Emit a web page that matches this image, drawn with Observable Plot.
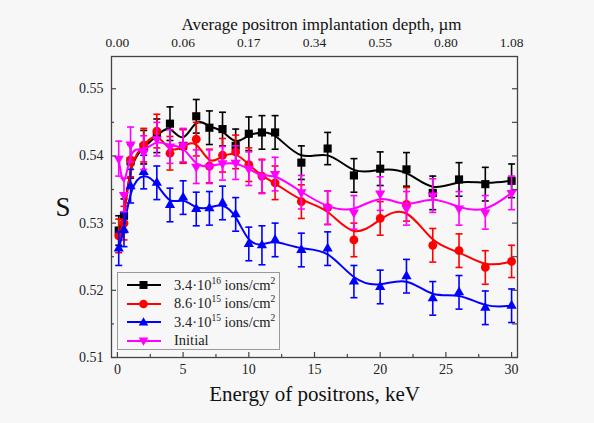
<!DOCTYPE html>
<html><head><meta charset="utf-8">
<script src="https://cdn.jsdelivr.net/npm/d3@7"></script>
<script src="https://cdn.jsdelivr.net/npm/@observablehq/plot@0.6"></script>
<style>
html,body{margin:0;padding:0;background:#f7f7f7;}
#wrap{position:relative;width:594px;height:423px;font-family:'Liberation Serif','Times New Roman',serif;color:#222;}
#legend{position:absolute;left:117px;top:272px;width:163px;height:78px;box-sizing:border-box;border:1px solid #9a9a9a;background:#f7f7f7;padding-top:3px;}
#legend .row{height:18.5px;display:flex;align-items:center;font-size:14.5px;white-space:nowrap;font-family:'Liberation Serif','Times New Roman',serif;}
#legend svg{display:block;margin-left:9px;margin-right:13px;}
#legend sup{font-size:9.5px;vertical-align:6px;line-height:0;}
</style></head><body><div id="wrap"></div>
<script>
// ---- data ----
const energy = [0.1, 0.5, 1, 2, 3, 4, 5, 6, 7, 8, 9, 10, 11, 12, 14, 16, 18, 20, 22, 24, 26, 28, 30];
const sDose34e16 = [0.5289, 0.5311, 0.5392, 0.5413, 0.5430, 0.5448, 0.5415, 0.5459, 0.5442, 0.5440, 0.5415, 0.5433, 0.5435, 0.5435, 0.5390, 0.5411, 0.5371, 0.5381, 0.5380, 0.5345, 0.5365, 0.5358, 0.5363];
const eDose34e16 = [0.0022, 0.0025, 0.0025, 0.0025, 0.0025, 0.0025, 0.0025, 0.0025, 0.0025, 0.0025, 0.0025, 0.0025, 0.0025, 0.0025, 0.0025, 0.0024, 0.0025, 0.0025, 0.0025, 0.0025, 0.0025, 0.0025, 0.0025];
const sDose86e15 = [0.5281, 0.5300, 0.5394, 0.5416, 0.5437, 0.5404, 0.5414, 0.5425, 0.5385, 0.5401, 0.5406, 0.5387, 0.5370, 0.5360, 0.5332, 0.5323, 0.5275, 0.5307, 0.5328, 0.5267, 0.5259, 0.5234, 0.5243];
const eDose86e15 = [0.0025, 0.0025, 0.0025, 0.0025, 0.0025, 0.0025, 0.0025, 0.0025, 0.0025, 0.0025, 0.0025, 0.0025, 0.0025, 0.0025, 0.0025, 0.0025, 0.0025, 0.0025, 0.0025, 0.0025, 0.0025, 0.0025, 0.0024];
const sDose34e15 = [0.5262, 0.5290, 0.5355, 0.5376, 0.5360, 0.5327, 0.5338, 0.5321, 0.5322, 0.5330, 0.5313, 0.5269, 0.5267, 0.5275, 0.5260, 0.5262, 0.5213, 0.5205, 0.5221, 0.5188, 0.5197, 0.5174, 0.5177];
const eDose34e15 = [0.0025, 0.0025, 0.0025, 0.0025, 0.0025, 0.0025, 0.0025, 0.0025, 0.0025, 0.0025, 0.0025, 0.0025, 0.0029, 0.0025, 0.0025, 0.0025, 0.0024, 0.0025, 0.0025, 0.0025, 0.0025, 0.0025, 0.0025];
const sInitial = [0.5396, 0.5342, 0.5417, 0.5405, 0.5425, 0.5414, 0.5416, 0.5384, 0.5384, 0.5389, 0.5390, 0.5381, 0.5369, 0.5373, 0.5346, 0.5323, 0.5316, 0.5344, 0.5322, 0.5341, 0.5322, 0.5316, 0.5345];
const eInitial = [0.0026, 0.0025, 0.0026, 0.0025, 0.0025, 0.0025, 0.0025, 0.0025, 0.0025, 0.0025, 0.0025, 0.0025, 0.0025, 0.0025, 0.0025, 0.0025, 0.0025, 0.0025, 0.0025, 0.0025, 0.0025, 0.0025, 0.0025];
const seriesNames = ["3.4·10<sup>16</sup> ions/cm<sup>2</sup>", "8.6·10<sup>15</sup> ions/cm<sup>2</sup>", "3.4·10<sup>15</sup> ions/cm<sup>2</sup>", "Initial"];
const xTicks = [0, 5, 10, 15, 20, 25, 30];
const xMinor = [2.5, 7.5, 12.5, 17.5, 22.5, 27.5];
const yTicks = [0.51, 0.52, 0.53, 0.54, 0.55];
const yMinor = [0.515, 0.525, 0.535, 0.545];
const depthTickE = [0, 5, 10, 15, 20, 25, 30];
const depthTickLabels = ["0.00", "0.06", "0.17", "0.34", "0.55", "0.80", "1.08"];

// ---- styling ----
const colors = ["#000000", "#ff0000", "#0000ff", "#ff00ff"];
const sqrt3 = Math.sqrt(3);
const triDown = {draw(ctx, size){ const y = -Math.sqrt(size / (sqrt3 * 3)); ctx.moveTo(0, -2 * y); ctx.lineTo(-sqrt3 * y, y); ctx.lineTo(sqrt3 * y, y); ctx.closePath(); }};
const capSym = {draw(ctx){ ctx.moveTo(-3.5, 0); ctx.lineTo(3.5, 0); }};
const symbols = ["square", "circle", "triangle", triDown];
const radii = [4.6, 4.4, 3.8, 3.8];

const valueSets = [sDose34e16, sDose86e15, sDose34e15, sInitial];
const errSets = [eDose34e16, eDose86e15, eDose34e15, eInitial];
const series = valueSets.map((vals, k) => energy.map((E, i) => ({E, S: vals[i], lo: vals[i] - errSets[k][i], hi: vals[i] + errSets[k][i]})));

const W = 594, H = 423, mL = 111, mR = 77, mT = 56, mB = 66;
const pw = W - mL - mR, ph = H - mT - mB;
const axisColor = "#444";
const serif = "'Liberation Serif', 'Times New Roman', serif";

const marks = [];
series.forEach((rows, k) => {
  marks.push(Plot.line(rows, {x: "E", y: "S", stroke: colors[k], strokeWidth: 2, curve: "basis"}));
  marks.push(Plot.ruleX(rows, {x: "E", y1: "lo", y2: "hi", stroke: colors[k], strokeWidth: 1.6}));
  marks.push(Plot.dot(rows, {x: "E", y: "lo", symbol: capSym, stroke: colors[k], strokeWidth: 1.6, fill: "none"}));
  marks.push(Plot.dot(rows, {x: "E", y: "hi", symbol: capSym, stroke: colors[k], strokeWidth: 1.6, fill: "none"}));
  marks.push(Plot.dot(rows, {x: "E", y: "S", symbol: symbols[k], r: radii[k], fill: colors[k], stroke: "none"}));
});

const chart = Plot.plot({
  width: W, height: H, marginLeft: mL, marginRight: mR, marginTop: mT, marginBottom: mB,
  style: {background: "#f7f7f7", fontFamily: serif, fontSize: "14px", color: "#222"},
  x: {domain: [-0.45, 30.45]},
  y: {domain: [0.51, 0.5548]},
  marks: [
    ...marks,
    Plot.frame({stroke: axisColor, strokeWidth: 1.3}),
    // inward ticks
    Plot.tickY(yTicks, {y: d => d, insetRight: pw - 5, stroke: axisColor, strokeWidth: 1.2}),
    Plot.tickY(yMinor, {y: d => d, insetRight: pw - 3, stroke: axisColor, strokeWidth: 1.2}),
    Plot.tickY(yTicks, {y: d => d, insetLeft: pw - 5, stroke: axisColor, strokeWidth: 1.2}),
    Plot.tickY(yMinor, {y: d => d, insetLeft: pw - 5, stroke: axisColor, strokeWidth: 1.2}),
    Plot.tickX(xTicks, {x: d => d, insetTop: ph - 5, stroke: axisColor, strokeWidth: 1.2}),
    Plot.tickX(xMinor, {x: d => d, insetTop: ph - 3, stroke: axisColor, strokeWidth: 1.2}),
    Plot.axisY(yTicks, {tickSize: 0, tickPadding: 8, tickFormat: d3.format(".2f"), label: null, fontSize: 14, fontFamily: serif}),
    Plot.axisX(xTicks, {tickSize: 0, tickPadding: 7, label: null, fontSize: 14, fontFamily: serif}),
    Plot.axisX(depthTickE, {anchor: "top", tickSize: 0, tickPadding: 10, label: null, fontSize: 13.5, fontFamily: serif, tickFormat: d => depthTickLabels[depthTickE.indexOf(d)]}),
    Plot.text(["S"], {frameAnchor: "left", dx: -56, fontSize: 27, fill: "#111", fontFamily: serif}),
    Plot.text(["Energy of positrons, keV"], {frameAnchor: "bottom", dy: 43, fontSize: 21, fill: "#111", fontFamily: serif}),
    Plot.text(["Average positron implantation depth, µm"], {frameAnchor: "top", dy: -39, dx: 7, fontSize: 17, fill: "#111", fontFamily: serif})
  ]
});
const wrap = document.getElementById("wrap");
wrap.appendChild(chart);

// legend
const legend = document.createElement("div");
legend.id = "legend";
const symSvg = [
  '<rect x="12.5" y="5" width="8" height="8" fill="C"/>',
  '<circle cx="16.5" cy="9" r="4.3" fill="C"/>',
  '<path d="M16.5,4.2 L21.3,12.5 L11.7,12.5 Z" fill="C"/>',
  '<path d="M16.5,13.8 L21.3,5.5 L11.7,5.5 Z" fill="C"/>'
];
seriesNames.forEach((name, k) => {
  const row = document.createElement("div");
  row.className = "row";
  row.innerHTML = `<svg width="34" height="18"><line x1="0" x2="34" y1="9" y2="9" stroke="${colors[k]}" stroke-width="2"/>${symSvg[k].replace("C", colors[k])}</svg><span>${name}</span>`;
  legend.appendChild(row);
});
wrap.appendChild(legend);
</script>
</body></html>
